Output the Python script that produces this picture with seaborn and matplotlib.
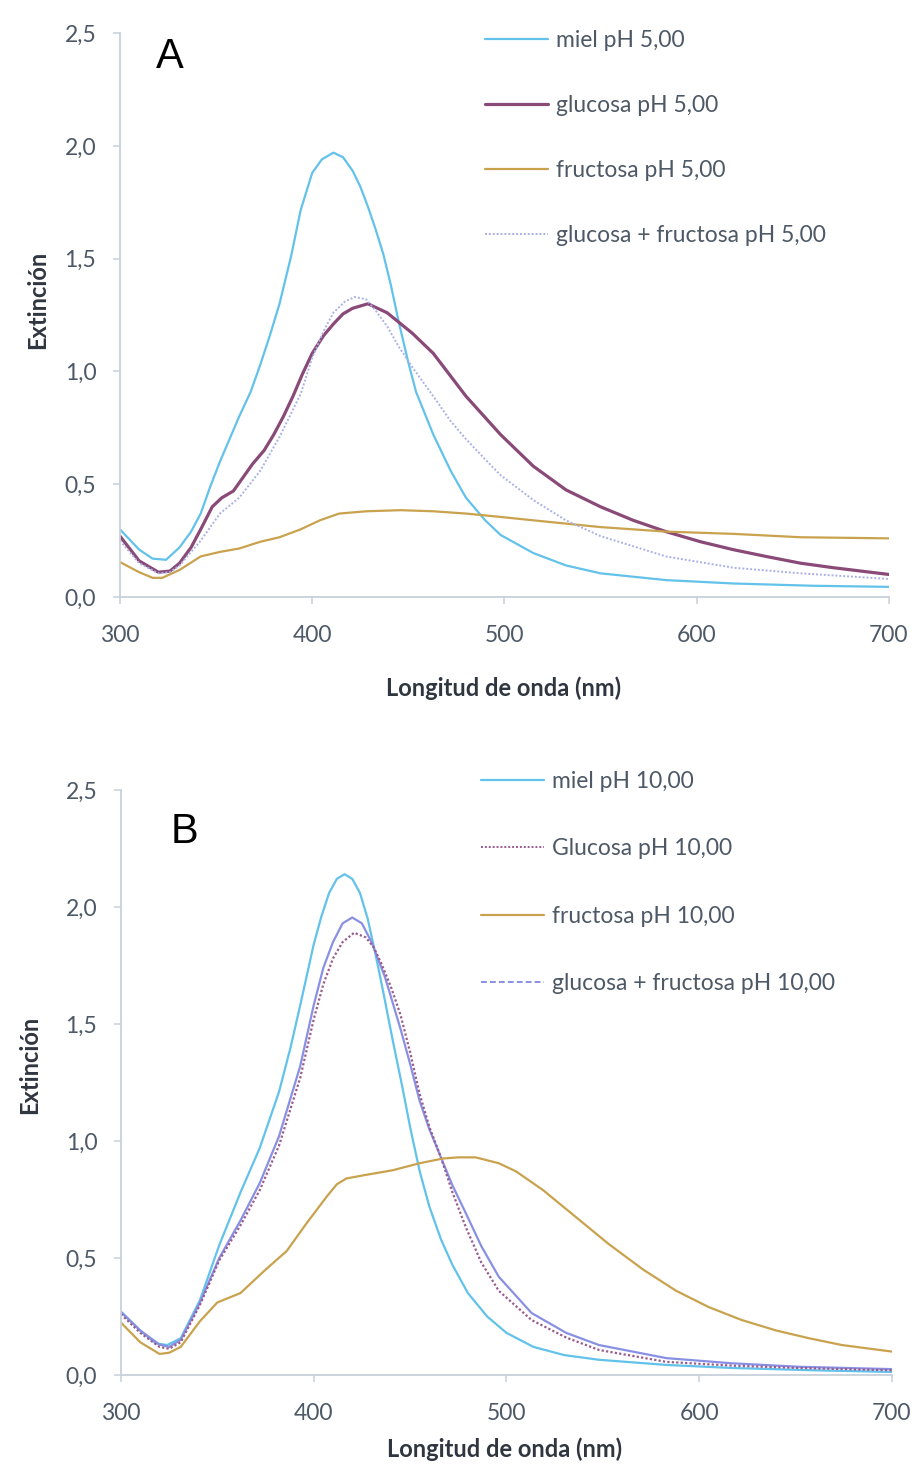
import matplotlib
matplotlib.use("Agg")
import matplotlib.pyplot as plt
from matplotlib.lines import Line2D
from matplotlib.ticker import FuncFormatter, MultipleLocator
import seaborn as sns

# ---------------- Panel A: pH 5,00 ----------------
miel5_wl = [300, 310, 317, 324, 331, 337, 342, 347, 352, 357, 362, 368, 373, 378, 383, 389,
            394, 400, 405, 411, 416, 421, 425, 429, 433, 437, 441, 445, 450, 454, 463, 472,
            480, 490, 498, 515, 532, 550, 584, 619, 660, 700]
miel5_val = [0.30, 0.21, 0.17, 0.165, 0.22, 0.29, 0.37, 0.49, 0.60, 0.70, 0.80, 0.91, 1.03,
             1.16, 1.30, 1.51, 1.715, 1.88, 1.94, 1.97, 1.95, 1.89, 1.82, 1.73, 1.63, 1.52,
             1.38, 1.22, 1.04, 0.91, 0.72, 0.56, 0.44, 0.34, 0.275, 0.195, 0.14, 0.105,
             0.075, 0.06, 0.05, 0.045]

gluc5_wl = [300, 310, 320, 326, 331, 337, 342, 348, 353, 359, 364, 369, 375, 380, 385, 390,
            395, 400, 406, 411, 416, 421, 429, 439, 452, 463, 480, 498, 515, 532, 550, 567,
            584, 602, 619, 636, 654, 671, 700]
gluc5_val = [0.27, 0.16, 0.11, 0.115, 0.15, 0.22, 0.30, 0.40, 0.44, 0.47, 0.53, 0.59, 0.65,
             0.72, 0.80, 0.89, 0.99, 1.08, 1.16, 1.21, 1.255, 1.28, 1.30, 1.26, 1.17, 1.08,
             0.89, 0.72, 0.58, 0.475, 0.40, 0.34, 0.29, 0.245, 0.21, 0.18, 0.15, 0.13, 0.10]

fruc5_wl = [300, 310, 317, 322, 331, 342, 352, 362, 373, 383, 394, 404, 414, 428, 446, 463,
            480, 498, 515, 550, 584, 619, 654, 700]
fruc5_val = [0.155, 0.11, 0.085, 0.085, 0.12, 0.18, 0.20, 0.215, 0.245, 0.265, 0.30, 0.34,
             0.37, 0.38, 0.385, 0.38, 0.37, 0.355, 0.34, 0.31, 0.29, 0.28, 0.265, 0.26]

mix5_wl = [300, 310, 320, 326, 331, 342, 352, 362, 373, 383, 394, 400, 406, 411, 417, 422,
           428, 433, 439, 445, 452, 463, 472, 480, 490, 498, 515, 532, 550, 584, 619, 654,
           700]
mix5_val = [0.25, 0.15, 0.105, 0.11, 0.14, 0.25, 0.37, 0.44, 0.56, 0.71, 0.90, 1.06, 1.18,
            1.26, 1.31, 1.33, 1.32, 1.27, 1.20, 1.11, 1.02, 0.89, 0.78, 0.70, 0.61, 0.54,
            0.43, 0.34, 0.27, 0.18, 0.13, 0.105, 0.08]

# ---------------- Panel B: pH 10,00 ----------------
miel10_wl = [300, 310, 318, 324, 331, 341, 351, 362, 372, 382, 388, 393, 400, 404, 408, 412,
             416, 420, 424, 428, 432, 436, 441, 446, 450, 455, 460, 466, 472, 480, 490, 500,
             514, 530, 548, 583, 617, 660, 700]
miel10_val = [0.27, 0.19, 0.135, 0.128, 0.157, 0.32, 0.555, 0.78, 0.97, 1.21, 1.40, 1.58,
              1.84, 1.96, 2.06, 2.12, 2.14, 2.12, 2.06, 1.95, 1.80, 1.64, 1.43, 1.23, 1.06,
              0.87, 0.72, 0.58, 0.47, 0.35, 0.25, 0.18, 0.12, 0.085, 0.065, 0.043, 0.03,
              0.02, 0.013]

gluc10_wl = [300, 310, 320, 325, 331, 341, 351, 362, 372, 382, 393, 400, 405, 410, 415, 421,
             427, 431, 435, 440, 445, 450, 455, 460, 466, 472, 479, 487, 496, 513, 531, 548,
             583, 617, 652, 700]
gluc10_val = [0.26, 0.18, 0.12, 0.112, 0.14, 0.30, 0.49, 0.64, 0.79, 0.98, 1.27, 1.52, 1.67,
              1.78, 1.85, 1.89, 1.87, 1.83, 1.76, 1.66, 1.54, 1.38, 1.20, 1.06, 0.93, 0.78,
              0.63, 0.48, 0.36, 0.235, 0.16, 0.107, 0.056, 0.04, 0.03, 0.02]

fruc10_wl = [300, 310, 320, 325, 331, 341, 350, 362, 375, 386, 396, 407, 412, 417, 427, 441,
             455, 467, 475, 484, 496, 505, 519, 536, 553, 571, 588, 605, 622, 640, 657, 674,
             700]
fruc10_val = [0.224, 0.14, 0.09, 0.095, 0.12, 0.23, 0.31, 0.35, 0.45, 0.53, 0.645, 0.765,
              0.815, 0.84, 0.855, 0.875, 0.905, 0.925, 0.93, 0.93, 0.905, 0.87, 0.79, 0.675,
              0.56, 0.45, 0.36, 0.29, 0.235, 0.19, 0.157, 0.128, 0.10]

mix10_wl = [300, 310, 320, 325, 331, 341, 351, 362, 372, 382, 393, 400, 405, 410, 415, 420,
            425, 430, 437, 445, 450, 455, 460, 466, 472, 479, 487, 496, 513, 531, 548, 583,
            617, 652, 700]
mix10_val = [0.27, 0.19, 0.13, 0.12, 0.15, 0.31, 0.50, 0.66, 0.82, 1.02, 1.32, 1.58, 1.74,
             1.85, 1.93, 1.955, 1.93, 1.85, 1.70, 1.48, 1.33, 1.17, 1.05, 0.93, 0.81, 0.69,
             0.55, 0.42, 0.265, 0.18, 0.128, 0.072, 0.05, 0.035, 0.025]

labels_a = ["miel pH 5,00", "glucosa pH 5,00", "fructosa pH 5,00",
            "glucosa + fructosa pH 5,00"]
labels_b = ["miel pH 10,00", "Glucosa pH 10,00", "fructosa pH 10,00",
            "glucosa + fructosa pH 10,00"]

y_max = 2.5

C_MIEL = "#62c2ea"
C_GLUC = "#8a4a78"
C_FRUC = "#c9a24e"
C_MIX5 = "#a9b1e6"
C_GLUC10 = "#9a5a8e"
C_MIX10 = "#8990e4"
SPINE = "#c7d0da"
TICKTXT = "#4d5966"
LABELTXT = "#2f3640"

sns.set_theme(style="white")
plt.rcParams["font.family"] = ["Lato", "DejaVu Sans"]

fig = plt.figure(figsize=(9.15, 14.64), dpi=100)
fig.patch.set_facecolor("white")
ax_a = fig.add_axes([0.1311, 0.5922, 0.8404, 0.3852])
ax_b = fig.add_axes([0.1322, 0.0608, 0.8426, 0.3996])

comma = FuncFormatter(lambda v, _: f"{v:.1f}".replace(".", ","))

# Panel A curves
sns.lineplot(x=miel5_wl, y=miel5_val, ax=ax_a, color=C_MIEL, lw=1.6, sort=False)
sns.lineplot(x=gluc5_wl, y=gluc5_val, ax=ax_a, color=C_GLUC, lw=2.3, sort=False)
sns.lineplot(x=fruc5_wl, y=fruc5_val, ax=ax_a, color=C_FRUC, lw=1.6, sort=False)
sns.lineplot(x=mix5_wl, y=mix5_val, ax=ax_a, color=C_MIX5, lw=1.4, sort=False,
             linestyle=(0, (1, 1)))

# Panel B curves
sns.lineplot(x=miel10_wl, y=miel10_val, ax=ax_b, color=C_MIEL, lw=1.6, sort=False)
sns.lineplot(x=mix10_wl, y=mix10_val, ax=ax_b, color=C_MIX10, lw=1.6, sort=False)
sns.lineplot(x=gluc10_wl, y=gluc10_val, ax=ax_b, color=C_GLUC10, lw=1.6, sort=False,
             linestyle=(0, (1, 1)))
sns.lineplot(x=fruc10_wl, y=fruc10_val, ax=ax_b, color=C_FRUC, lw=1.6, sort=False)

handles_a = [
    Line2D([], [], color=C_MIEL, lw=1.6),
    Line2D([], [], color=C_GLUC, lw=2.3),
    Line2D([], [], color=C_FRUC, lw=1.6),
    Line2D([], [], color=C_MIX5, lw=1.4, linestyle=(0, (1, 1))),
]
handles_b = [
    Line2D([], [], color=C_MIEL, lw=1.6),
    Line2D([], [], color=C_GLUC10, lw=1.4, linestyle=(0, (1, 1))),
    Line2D([], [], color=C_FRUC, lw=1.6),
    Line2D([], [], color=C_MIX10, lw=1.4, linestyle=(0, (3, 1.6))),
]

for ax, handles, labels, anchor, spacing, ylab_xy, xlab_xy, letter, letter_xy in [
    (ax_a, handles_a, labels_a, (0.4746, 1.006), 1.92, (-0.107, 0.527), (0.499, -0.161),
     "A", (0.065, 0.957)),
    (ax_b, handles_b, labels_b, (0.467, 1.033), 2.03, (-0.118, 0.53), (0.498, -0.1265),
     "B", (0.083, 0.928)),
]:
    ax.set_xlim(300, 700)
    ax.set_ylim(0, y_max)
    ax.set_facecolor("white")
    ax.xaxis.set_major_locator(MultipleLocator(100))
    ax.yaxis.set_major_locator(MultipleLocator(0.5))
    ax.yaxis.set_major_formatter(comma)
    for side in ("top", "right"):
        ax.spines[side].set_visible(False)
    for side in ("left", "bottom"):
        ax.spines[side].set_color(SPINE)
        ax.spines[side].set_linewidth(1.3)
    ax.tick_params(axis="both", which="major", direction="out", length=5, width=1.1,
                   color=SPINE, labelcolor=TICKTXT, labelsize=16.5)
    ax.tick_params(axis="y", pad=12, left=True)
    ax.tick_params(axis="x", pad=15, bottom=True)
    ax.set_ylabel("Extinción", fontsize=17, fontweight="bold", color=LABELTXT)
    ax.set_xlabel("Longitud de onda (nm)", fontsize=17, fontweight="bold", color=LABELTXT)
    ax.yaxis.set_label_coords(*ylab_xy)
    ax.xaxis.set_label_coords(*xlab_xy)
    ax.xaxis.label.set_va("center")
    ax.yaxis.label.set_va("center")
    leg = ax.legend(handles, labels, loc="upper left", bbox_to_anchor=anchor,
                    frameon=False, fontsize=16.5, handlelength=2.75, handletextpad=0.35,
                    labelspacing=spacing, borderpad=0, borderaxespad=0)
    for t in leg.get_texts():
        t.set_color(TICKTXT)
    ax.text(*letter_xy, letter, transform=ax.transAxes, fontsize=30,
            family="Liberation Sans", ha="center", va="center", color="black")

fig.savefig("out.png", dpi=100, facecolor="white")
